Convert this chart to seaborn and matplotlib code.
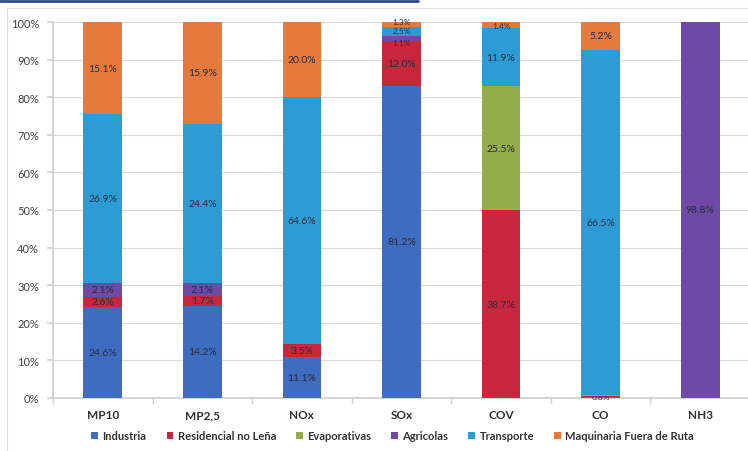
import matplotlib
matplotlib.use("Agg")
import matplotlib.pyplot as plt
from matplotlib.patches import Patch
from matplotlib.lines import Line2D
import seaborn as sns
import numpy as np

categories = ["MP10", "MP2,5", "NOx", "SOx", "COV", "CO", "NH3"]
series_names = ["Industria", "Residencial no Leña", "Evaporativas", "Agricolas",
                "Transporte", "Maquinaria Fuera de Ruta"]

industria = [24.2, 24.5, 10.9, 83.0, 0.0, 0.3, 0.0]
residencial = [2.7, 2.6, 3.5, 12.0, 50.0, 0.3, 0.0]
evaporativas = [0.0, 0.0, 0.0, 0.0, 32.9, 0.2, 0.0]
agricolas = [3.7, 3.6, 0.0, 1.2, 0.0, 0.0, 100.0]
transporte = [44.9, 42.2, 65.7, 2.5, 15.4, 91.8, 0.0]
maquinaria = [24.5, 27.1, 19.9, 1.3, 1.7, 7.4, 0.0]

lab_industria = ["24.6%", "14.2%", "11.1%", "81.2%", "", "", ""]
lab_residencial = ["2.6%", "1.7%", "3.5%", "12.0%", "38.7%", "0.8%", ""]
lab_evaporativas = ["", "", "", "", "25.5%", "", ""]
lab_agricolas = ["2.1%", "2.1%", "", "1.1%", "", "", "98.8%"]
lab_transporte = ["26.9%", "24.4%", "64.6%", "2.5%", "11.9%", "66.5%", ""]
lab_maquinaria = ["15.1%", "15.9%", "20.0%", "1.3%", "1.4%", "5.2%", ""]

colors = ["#3d6cc0", "#c8263c", "#93ac4c", "#7048a8", "#2e9cd4", "#e67a3c"]

sns.set_theme(style="white")
plt.rcParams["font.family"] = ["Lato", "DejaVu Sans"]

fig = plt.figure(figsize=(7.48, 4.52), dpi=100)
ax = fig.add_axes([53 / 748, 53 / 452, 697 / 748, 376 / 452])

all_vals = [industria, residencial, evaporativas, agricolas, transporte, maquinaria]
all_labs = [lab_industria, lab_residencial, lab_evaporativas, lab_agricolas,
            lab_transporte, lab_maquinaria]
# small label nudges (points) for the crowded top of the SOx bar
nudges = {(3, 3): -3.0, (4, 3): 1.0, (5, 3): 2.0}

bottom = np.zeros(len(categories))
for si, (vals, labs, col) in enumerate(zip(all_vals, all_labs, colors)):
    sns.barplot(x=categories, y=vals, bottom=bottom, color=col, saturation=1,
                width=0.39, ax=ax, zorder=3, linewidth=0)
    cont = ax.containers[-1]
    texts = ax.bar_label(cont, labels=labs, label_type="center", fontsize=7.5,
                         color="#2b2b3a")
    for ci, (t, v) in enumerate(zip(texts, vals)):
        if 0 < v < 2.55:
            t.set_fontsize(6.0)
        if (si, ci) in nudges:
            x0, y0 = t.xyann
            t.xyann = (x0, y0 + nudges[(si, ci)])
    bottom = bottom + np.array(vals)

ax.set_xlim(-0.5, 6.5)
ax.set_ylim(0, 100)
ax.set_yticks(np.arange(0, 101, 10))
ax.set_yticklabels([f"{v}%" for v in range(0, 101, 10)], fontsize=8, color="#404040")
ax.yaxis.grid(True, color="#d9d9d9", linewidth=0.8, zorder=0)
ax.set_axisbelow(True)
for lbl in ax.get_xticklabels():
    lbl.set_fontweight("bold")
    lbl.set_fontsize(8.5)
    lbl.set_color("#303030")
ax.tick_params(axis="x", length=0, pad=8)
ax.tick_params(axis="y", length=4, color="#d0d0d0", pad=6, left=True)
ax.set_xticks(np.arange(-0.5, 6.6, 1), minor=True)
ax.tick_params(axis="x", which="minor", length=4, color="#d0d0d0", bottom=True)
for s in ["top", "right"]:
    ax.spines[s].set_visible(False)
ax.spines["left"].set_color("#cfcfcf")
ax.spines["bottom"].set_color("#cfcfcf")
ax.set_xlabel("")
ax.set_ylabel("")

handles = [Patch(facecolor=c, edgecolor="none") for c in colors]
leg = fig.legend(handles, series_names, loc="center", bbox_to_anchor=(0.525, 1 - 437 / 452),
                 ncol=6, frameon=False, fontsize=8, handlelength=0.6, handleheight=0.6,
                 columnspacing=1.8, handletextpad=0.4)
for t in leg.get_texts():
    t.set_color("#333333")
    t.set_fontweight("bold")

# decorative frame lines from the scanned page
fig.add_artist(Line2D([0, 418 / 748], [1 - 2 / 452, 1 - 2 / 452], color="#2f4a8a",
                      linewidth=2, transform=fig.transFigure))
fig.add_artist(Line2D([7 / 748, 1], [1 - 9 / 452, 1 - 9 / 452], color="#e0e0e0",
                      linewidth=0.8, transform=fig.transFigure))
fig.add_artist(Line2D([7 / 748, 7 / 748], [0, 1 - 9 / 452], color="#e0e0e0",
                      linewidth=0.8, transform=fig.transFigure))

fig.savefig("out.png", dpi=100)
